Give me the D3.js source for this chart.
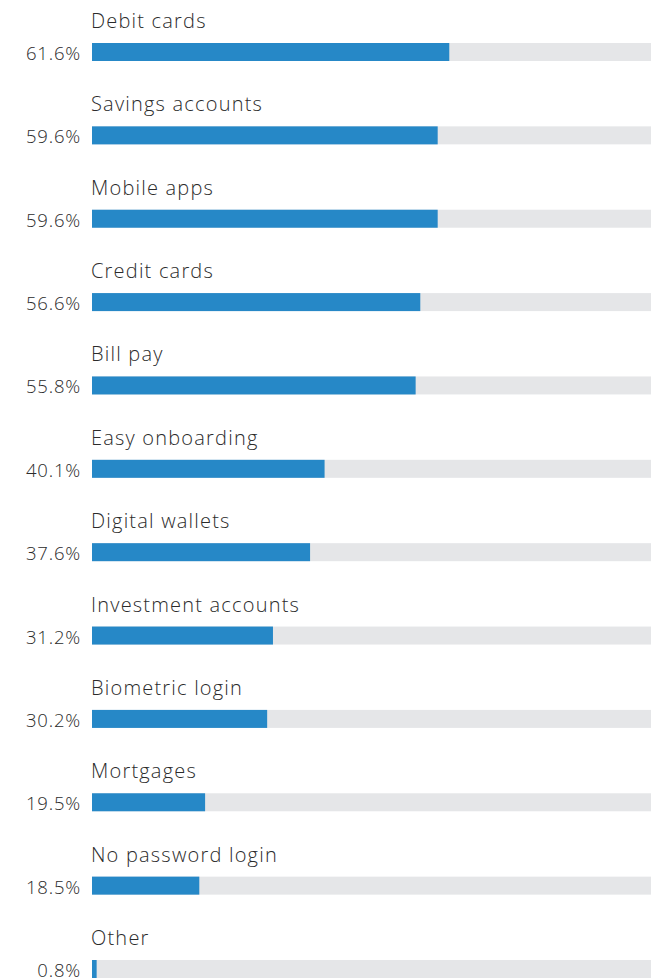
<!DOCTYPE html>
<html>
<head>
<meta charset="utf-8">
<script src="https://cdn.jsdelivr.net/npm/d3@7"></script>
<style>
  html, body { margin: 0; padding: 0; background: #fff; }
  svg { display: block; }
  text { font-family: "Open Sans", "DejaVu Sans", sans-serif; fill: #2b2b2b; font-weight: 300; }
</style>
</head>
<body>
<div id="chart"></div>
<script>
// Share of respondents citing each product / feature
const categories = [
  "Debit cards", "Savings accounts", "Mobile apps", "Credit cards", "Bill pay",
  "Easy onboarding", "Digital wallets", "Investment accounts", "Biometric login",
  "Mortgages", "No password login", "Other"
];
const values = [61.6, 59.6, 59.6, 56.6, 55.8, 40.1, 37.6, 31.2, 30.2, 19.5, 18.5, 0.8];
const valueLabels = ["61.6%", "59.6%", "59.6%", "56.6%", "55.8%", "40.1%", "37.6%", "31.2%", "30.2%", "19.5%", "18.5%", "0.8%"];

const width = 651, height = 980;
const barX = 92, barH = 18;

const svg = d3.select("#chart").append("svg")
  .attr("width", width).attr("height", height);

// full 0–100% track runs past the right edge of the view
const x = d3.scaleLinear().domain([0, 100]).range([barX, barX + 580]);
const y = d3.scalePoint().domain(categories).range([43, 960]);

const rows = svg.selectAll("g.row").data(categories).enter()
  .append("g").attr("class", "row")
  .attr("transform", d => `translate(0,${y(d)})`);

rows.append("rect")
  .attr("x", x(0)).attr("y", 0)
  .attr("width", x(100) - x(0)).attr("height", barH)
  .attr("fill", "#e5e6e8");

rows.append("rect")
  .attr("x", x(0)).attr("y", 0)
  .attr("width", (d, i) => x(values[i]) - x(0)).attr("height", barH)
  .attr("fill", "#2688c7");

rows.append("text")
  .attr("x", x(0) - 1).attr("y", -15)
  .attr("font-size", 20)
  .attr("letter-spacing", 1.2)
  .text(d => d);

rows.append("text")
  .attr("x", 81).attr("y", 17)
  .attr("text-anchor", "end")
  .attr("font-size", 18.5)
  .attr("letter-spacing", 0.8)
  .text((d, i) => valueLabels[i]);
</script>
</body>
</html>
